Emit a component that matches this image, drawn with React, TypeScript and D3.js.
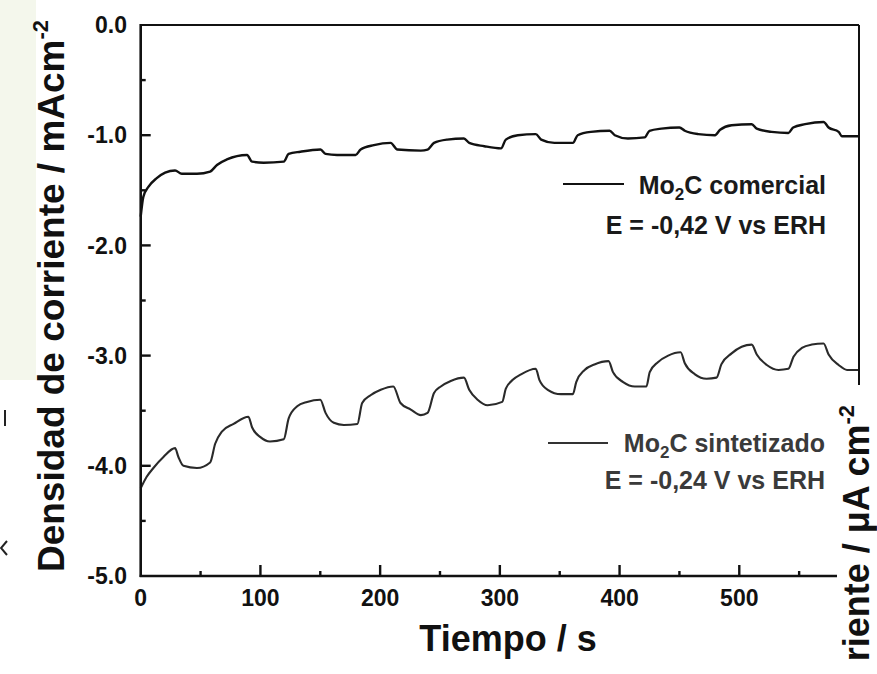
import React from "react";
import * as d3 from "d3";

// ---------- data ----------
const comercialT = [0, 2.2, 6.4, 13.4, 20.4, 28.7, 34.3, 47, 58, 63.7, 72, 88.8, 93, 102.7, 119.5, 123.6, 133.4, 150.2, 154.4, 164, 179.5, 183.7, 194.8, 208.8, 214.4, 234, 239.6, 245, 256, 270, 274.4, 287, 301, 305, 315, 330, 334.5, 345.6, 361, 365, 376, 391.7, 396, 407, 421, 425, 435, 450, 454.5, 465.7, 479.7, 484, 493.6, 510.4, 514.6, 527, 541, 545, 555, 570.4, 574.6, 583, 585.8, 600];
const comercialV = [-1.74, -1.56, -1.47, -1.39, -1.34, -1.32, -1.35, -1.35, -1.33, -1.27, -1.22, -1.18, -1.24, -1.25, -1.24, -1.17, -1.15, -1.13, -1.17, -1.18, -1.18, -1.13, -1.09, -1.07, -1.13, -1.14, -1.13, -1.07, -1.04, -1.03, -1.07, -1.10, -1.12, -1.04, -1.0, -0.99, -1.04, -1.07, -1.07, -1.0, -0.97, -0.96, -1.0, -1.03, -1.02, -0.96, -0.94, -0.93, -0.96, -0.99, -1.0, -0.95, -0.91, -0.9, -0.94, -0.97, -0.98, -0.93, -0.9, -0.88, -0.93, -0.97, -1.01, -1.01];

const sintT = [0, 5, 10.6, 19, 28.7, 31.5, 35.7, 47, 58, 62.2, 67.8, 77.6, 90, 93, 100, 108, 119.5, 123.6, 130.7, 139, 150, 154.4, 161.3, 169.7, 181, 185, 192, 200.5, 211, 217, 225.6, 234, 239.6, 245, 250.7, 259, 270, 274.4, 281.4, 289.8, 302, 305, 310.8, 317.7, 330, 333, 340, 351, 361, 363.8, 370.8, 379, 390.8, 394.5, 403, 412.7, 422.4, 425.2, 432, 440.6, 451, 454.5, 463, 472.7, 481, 485, 493.6, 502, 510.4, 514.6, 523, 532.8, 541, 545.3, 552.3, 560.6, 570.4, 574.6, 583, 590, 600];
const sintV = [-4.205, -4.1, -4.02, -3.92, -3.84, -3.92, -4.0, -4.02, -3.97, -3.8, -3.69, -3.62, -3.555, -3.65, -3.74, -3.78, -3.76, -3.57, -3.46, -3.42, -3.4, -3.52, -3.61, -3.63, -3.62, -3.43, -3.36, -3.31, -3.28, -3.43, -3.49, -3.54, -3.52, -3.34, -3.28, -3.23, -3.2, -3.31, -3.4, -3.45, -3.42, -3.3, -3.22, -3.17, -3.12, -3.22, -3.31, -3.35, -3.35, -3.24, -3.13, -3.08, -3.05, -3.15, -3.24, -3.28, -3.28, -3.15, -3.06, -3.0, -2.97, -3.07, -3.17, -3.21, -3.2, -3.08, -2.98, -2.92, -2.9, -2.99, -3.085, -3.13, -3.12, -3.01, -2.93, -2.9, -2.89, -2.99, -3.085, -3.13, -3.13];

const xMajorTicks = [0, 100, 200, 300, 400, 500, 600];
const xTickLabels = ["0", "100", "200", "300", "400", "500", "600"];
const xMinorTicks = [50, 150, 250, 350, 450, 550];
const yMajorTicks = [0, -1, -2, -3, -4, -5];
const yTickLabels = ["0.0", "-1.0", "-2.0", "-3.0", "-4.0", "-5.0"];
const yMinorTicks = [-0.5, -1.5, -2.5, -3.5, -4.5];

const xTitle = "Tiempo / s";
const yTitle = "Densidad de corriente / mAcm";
const legend1 = ["Mo", "2", "C comercial"];
const legend1b = "E = -0,42 V vs ERH";
const legend2 = ["Mo", "2", "C sintetizado"];
const legend2b = "E = -0,24 V vs ERH";
const neighbourTitle = "riente / \u03bcA cm";

// ---------- layout ----------
const W = 877, H = 674;
const X0 = 140.7, X1 = 859, Y0 = 25, Y1 = 576;
const FONT = "'Liberation Sans', Arial, Helvetica, sans-serif";

export default function App() {
  const x = d3.scaleLinear().domain([0, 600]).range([X0, X1]);
  const y = d3.scaleLinear().domain([-5, 0]).range([Y1, Y0]);
  const line = d3.line<[number, number]>().x(d => x(d[0])).y(d => y(d[1])).curve(d3.curveMonotoneX);
  const com: [number, number][] = comercialT.map((t, i) => [t, comercialV[i]]);
  const sin: [number, number][] = sintT.map((t, i) => [t, sintV[i]]);

  return (
    <svg width={W} height={H} style={{ position: "absolute", left: 0, top: 0, background: "#fff" }} fontFamily={FONT}>
      <rect x={0} y={0} width={W} height={H} fill="#fff" />
      {/* neighbouring panel fragment on the left */}
      <rect x={0} y={0} width={36} height={380} fill="#f4f7ec" />
      <line x1={5} x2={5} y1={410} y2={426} stroke="#222" strokeWidth={2} />
      <path d="M7,541 L1,548 L7,555" fill="none" stroke="#222" strokeWidth={2} />

      {/* curves */}
      <path d={line(com) || ""} fill="none" stroke="#111" strokeWidth={2.4} strokeLinejoin="round" />
      <path d={line(sin) || ""} fill="none" stroke="#2a2a2a" strokeWidth={2.1} strokeLinejoin="round" />

      {/* frame */}
      <line x1={X0} x2={X1} y1={Y0} y2={Y0} stroke="#111" strokeWidth={2} />
      <line x1={X1} x2={X1} y1={Y0} y2={Y1} stroke="#111" strokeWidth={2} />
      <line x1={X0} x2={X0} y1={Y0 - 1} y2={Y1 + 1} stroke="#111" strokeWidth={2.6} />
      <line x1={X0 - 1} x2={X1} y1={Y1} y2={Y1} stroke="#111" strokeWidth={2.6} />

      {/* y ticks */}
      {yMajorTicks.map((v, i) => (
        <g key={"ym" + i}>
          {i > 0 && i < yMajorTicks.length - 1 && (
            <line x1={X0} x2={X0 + 10} y1={y(v)} y2={y(v)} stroke="#111" strokeWidth={2.4} />
          )}
          <text x={127} y={y(v)} dy="0.36em" textAnchor="end" fontSize={23} fontWeight="bold" fill="#111">
            {yTickLabels[i]}
          </text>
        </g>
      ))}
      {yMinorTicks.map((v, i) => (
        <line key={"yn" + i} x1={X0} x2={X0 + 5} y1={y(v)} y2={y(v)} stroke="#111" strokeWidth={2.4} />
      ))}

      {/* x ticks */}
      {xMajorTicks.map((v, i) => (
        <g key={"xm" + i}>
          {i > 0 && <line x1={x(v)} x2={x(v)} y1={Y1} y2={Y1 - 11} stroke="#111" strokeWidth={2.4} />}
          <text x={x(v)} y={606} textAnchor="middle" fontSize={23} fontWeight="bold" fill="#111">
            {xTickLabels[i]}
          </text>
        </g>
      ))}
      {xMinorTicks.map((v, i) => (
        <line key={"xn" + i} x1={x(v)} x2={x(v)} y1={Y1} y2={Y1 - 5} stroke="#111" strokeWidth={2.4} />
      ))}

      {/* axis titles */}
      <text x={508} y={651} textAnchor="middle" fontSize={36} fontWeight="bold" fill="#111">{xTitle}</text>
      <text transform="translate(64,296) rotate(-90)" textAnchor="middle" fontSize={37} fontWeight="bold" fill="#111">
        {yTitle}
        <tspan fontSize={22} dy={-16}>-2</tspan>
      </text>

      {/* legends */}
      <line x1={563} x2={624} y1={184} y2={184} stroke="#111" strokeWidth={2} />
      <text x={826} y={194} textAnchor="end" fontSize={25} fontWeight="bold" fill="#1a1a1a">
        {legend1[0]}<tspan fontSize={17} dy={6}>{legend1[1]}</tspan><tspan dy={-6}>{legend1[2]}</tspan>
      </text>
      <text x={826} y={234} textAnchor="end" fontSize={25} fontWeight="bold" fill="#1a1a1a">{legend1b}</text>

      <line x1={548} x2={608} y1={443} y2={443} stroke="#333" strokeWidth={2} />
      <text x={825} y={452} textAnchor="end" fontSize={25} fontWeight="bold" fill="#3a3a3a">
        {legend2[0]}<tspan fontSize={17} dy={6}>{legend2[1]}</tspan><tspan dy={-6}>{legend2[2]}</tspan>
      </text>
      <text x={825} y={489} textAnchor="end" fontSize={25} fontWeight="bold" fill="#3a3a3a">{legend2b}</text>

      {/* neighbouring panel fragment on the right */}
      <rect x={837} y={385} width={W - 837} height={H - 385} fill="#fff" />
      <text transform="translate(869,405) rotate(-90)" textAnchor="end" fontSize={36} fontWeight="bold" fill="#111">
        {neighbourTitle}
        <tspan fontSize={22} dy={-15}>-2</tspan>
      </text>
    </svg>
  );
}
